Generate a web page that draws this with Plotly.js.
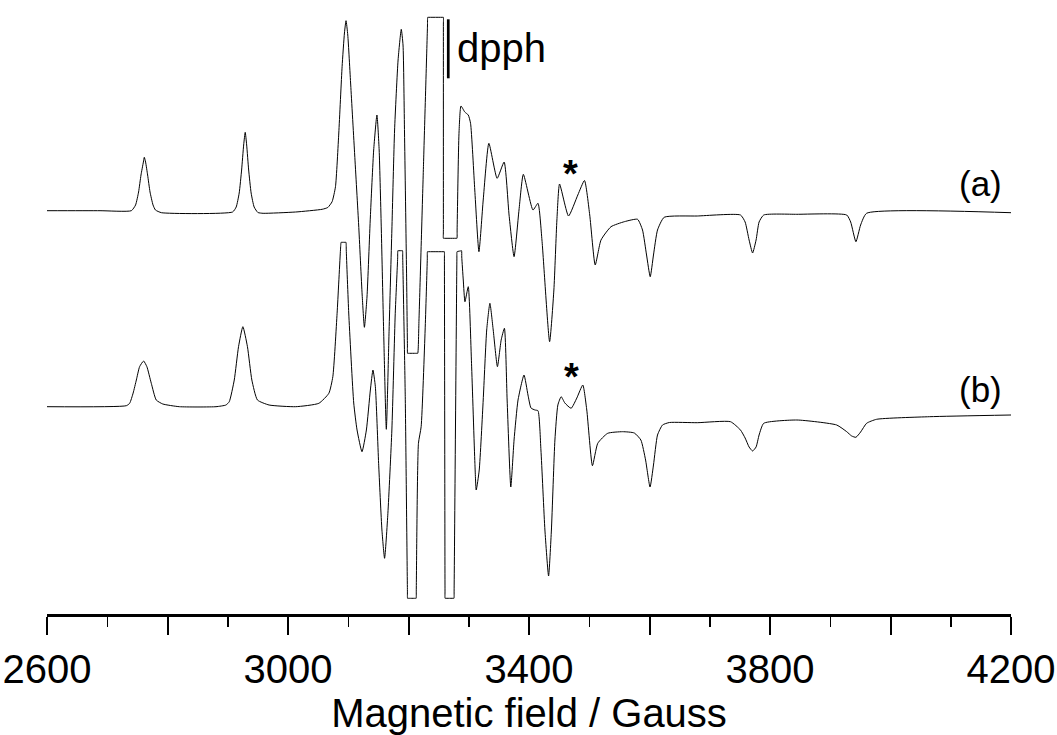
<!DOCTYPE html>
<html>
<head>
<meta charset="utf-8">
<script src="https://cdn.plot.ly/plotly-3.0.1.min.js"></script>
<style>html,body{margin:0;padding:0;background:#fff;}#chart{width:1057px;height:735px;}</style>
</head>
<body>
<div id="chart"></div>
<script>
// Spectrum (a): magnetic field (Gauss) and signal (arbitrary units, baseline = 0)
const fieldA = [2600,2688,2740,2747,2752,2756,2760,2761.5,2763.6,2767,2771,2776,2780,2790,
  2908,2914,2919,2923,2926.4,2929,2931.4,2934.7,2938.8,2943.8,2950,2958.7,
  3012.7,3056.7,3066,3073.2,3078.8,3084.3,3089.8,3093.7,3096.3,3099.2,3104.1,3110.7,3117.3,3123.1,3126.8,
  3131.1,3136.7,3142.2,3147.6,3151.3,3154.9,3158.7,3163.2,3167.8,3172.4,3176.9,3182.7,3188.0,
  3190.9,3193.4,3196.7,3198.2,3198.4,3199.2,3214.6,3215.4,3217.4,3224.8,3231.5,3231.9,3232.6,
  3257.2,3257.9,3257.9,3257.9,3257.9,3258.6,3279.8,3280.5,3280.7,3283.8,3287.1,
  3293.4,3299.2,3303.0,3310.0,3316.9,3324.0,3333.4,3347.1,3358.7,3366.9,3375.2,3383.4,3390.6,
  3406.6,3414.9,3421.5,3434.2,3441.3,3446.3,3450.7,3465.6,3481.0,3492.1,3500.8,3509.9,3519.5,
  3536.1,3558.2,3580.2,3588.4,3595.1,3601.2,3606.6,3613.3,3624.3,3679.3,3751.0,3758.7,3765.3,
  3771.1,3776.9,3781.9,3789.6,3844.6,3927.3,3933.9,3942.6,3950.4,3960.3,4200];
const signalA = [1.3,1.3,1.3,7,20,37,50,54.7,50,37,20,7,2,-0.7,
  0,5,19,42,67,79.7,67,42,19,5,-0.5,-1.3,
  0,2.7,4.5,10.3,25.3,79,145.3,179,191.3,177,127,57,-13,-83,-115.3,
  -85,-5,62,97,62,-18,-118,-217.3,-118,-18,82,152,182.7,
  167,79,-58,-133,-141.3,-141.3,-141.3,-141.3,-108,45.3,186,194.7,194.7,
  194.7,194.7,187,-19,-26.3,-26.3,-26.3,-26.3,-18,78.7,106,
  100,97,88.7,22,-39.7,12,68.7,33.7,50,-3,-44.7,2,37.7,
  2,8.7,-28,-129.7,-78,-8,28,-4,17,31.5,-3,-53,-28,
  -14.7,-9.7,-7.3,-18,-43,-64.7,-43,-18,-5.3,-4,-3,-10,-28,
  -41,-28,-10,-3,-2.3,-3,-10,-29.7,-13,-1.3,-0.7];

// Spectrum (b)
const fieldB = [2600,2731.7,2737.2,2743.0,2748.3,2753.7,2760.3,2765.8,2773.1,2781.3,2792.2,2819.8,
  2880.5,2897.0,2902.5,2910.8,2917.9,2925.1,2932.7,2940.0,2949.3,2968.6,
  3012.7,3051.2,3067.8,3074.4,3081.5,3087.1,3088.1,3088.8,3095.6,3096.3,3096.7,3100.8,3109.1,3114.6,3122.8,3130.1,
  3136.7,3141.0,3145.0,3150.4,3155.9,3160.3,3165.8,3172.4,3178.0,3182.0,3182.3,3183.0,3189.4,3190.1,3190.4,3194.6,
  3198.2,3198.4,3199.1,3212.0,3212.7,3212.9,3216.5,3221.0,3227.6,3231.2,3231.4,3232.1,
  3258.8,3259.5,3259.6,3260.6,3260.7,3261.4,3274.8,3275.5,3275.7,3280.3,3280.5,3281.2,3287.4,3288.1,3288.4,
  3290.9,3293.7,3299.2,
  3304.6,3310.2,3312.4,3317.4,3324.0,3329.8,3335.1,3340.6,3347.6,3353.8,3359.2,3363.7,3369.8,
  3375.2,3381.8,3391.7,3398.3,3403.3,3409.9,3414.9,3419.8,3426.4,3432.5,3437.2,3443.0,3447.9,
  3453.4,3459.5,3469.9,3479.4,3489.3,3495.9,3505.3,3514.1,3530.6,3555.4,3574.8,3585.7,3593.5,
  3600.9,3606.6,3613.3,3621.6,3633.1,3679.3,3734.4,3751.0,3758.7,3765.3,3771.1,3776.9,3781.9,
  3789.6,3844.6,3910.7,3927.3,3935.6,3942.6,3950.4,3960.3,3976.9,4065.0,4200];
const signalB = [1.3,2.3,4.7,15,28,41.3,47,41.3,24.7,8,4,1.3,
  1.3,3,6.3,28,61.3,81.3,61.3,28,8,3,
  1.3,4.7,14.7,31.3,94.7,158,165.7,165.7,165.7,165.7,158,95,5,-22,-43.7,-22,
  18,38,21.3,-55.3,-122,-150.3,-105.3,-22,94.7,150,157.3,157.3,157.3,157.3,150,11.3,
  -183,-190.3,-190.3,-190.3,-190.3,-183,-35.3,-18.7,78,149,156.3,156.3,
  156.3,156.3,149,-183,-190.3,-190.3,-190.3,-190.3,-183,149,156.3,156.5,157.2,157.3,151,
  128,106.3,121.3,
  44.7,-55.3,-82,-62,8,78,104.7,78,41.3,68,79.7,8,-79,
  -32,8,33,13,0,-2,-2.7,-42,-122,-168,-122,-32,3,
  11.3,5,-0.3,10,23,-2,-57.7,-35.3,-25.3,-23.7,-25,-32,-52,
  -79,-57,-27,-17,-14.5,-14.7,-13.7,-22,-30,-39,-43,-39,-27,
  -15.3,-12,-17,-23.7,-28,-29.3,-24,-15.3,-11.3,-8.7,-7];

// Axis ticks
const majorTicks = [2600,2800,3000,3200,3400,3600,3800,4000,4200];
const majorLabels = ['2600','','3000','','3400','','3800','','4200'];
const minorTicks = [2700,2900,3100,3300,3500,3700,3900,4100];

// Vertical stacking of the two spectra
const OFFSET_A = 402, OFFSET_B = 206;

const FONT = 'Liberation Sans, Arial, sans-serif';
const lineStyle = {color: '#000', width: 1, shape: 'spline', smoothing: 0.5};

const traces = [
  {x: fieldA, y: signalA.map(v => v + OFFSET_A), mode: 'lines', line: lineStyle, hoverinfo: 'skip', showlegend: false},
  {x: fieldB, y: signalB.map(v => v + OFFSET_B), mode: 'lines', line: lineStyle, hoverinfo: 'skip', showlegend: false}
];

const layout = {
  width: 1057, height: 735,
  margin: {l: 47, r: 46, t: 0, b: 121},
  paper_bgcolor: '#fff', plot_bgcolor: '#fff',
  font: {family: FONT, color: '#000'},
  xaxis: {
    range: [2600, 4200], showgrid: false, zeroline: false,
    showline: true, linecolor: '#000', linewidth: 2.5,
    ticks: 'outside', ticklen: 18, tickwidth: 2, tickcolor: '#000',
    tickmode: 'array', tickvals: majorTicks, ticktext: majorLabels,
    ticklabeloverflow: 'allow',
    tickfont: {family: FONT, size: 40, color: '#000'},
    minor: {tickmode: 'array', tickvals: minorTicks, ticks: 'outside', ticklen: 10, tickwidth: 1.5, tickcolor: '#000', showgrid: false},
    title: {text: 'Magnetic field / Gauss', font: {family: FONT, size: 40, color: '#000'}, standoff: 1}
  },
  yaxis: {visible: false, range: [0, 614], fixedrange: true},
  shapes: [
    {type: 'line', xref: 'x', yref: 'y', x0: 3266, x1: 3266, y0: 535.7, y1: 594.7, line: {color: '#000', width: 2.7}}
  ],
  annotations: [
    {text: 'dpph', x: 3277, y: 566, xref: 'x', yref: 'y', xanchor: 'left', yanchor: 'middle', showarrow: false, font: {family: FONT, size: 40, color: '#000'}},
    {text: '(a)', x: 4150, y: 431, xref: 'x', yref: 'y', xanchor: 'center', yanchor: 'middle', showarrow: false, font: {family: FONT, size: 35, color: '#000'}},
    {text: '(b)', x: 4150, y: 225, xref: 'x', yref: 'y', xanchor: 'center', yanchor: 'middle', showarrow: false, font: {family: FONT, size: 35, color: '#000'}},
    {text: '<b>*</b>', x: 3469.5, y: 440, xref: 'x', yref: 'y', xanchor: 'center', yanchor: 'middle', showarrow: false, font: {family: FONT, size: 38, color: '#000'}},
    {text: '<b>*</b>', x: 3471, y: 237, xref: 'x', yref: 'y', xanchor: 'center', yanchor: 'middle', showarrow: false, font: {family: FONT, size: 38, color: '#000'}}
  ]
};

Plotly.newPlot('chart', traces, layout, {staticPlot: true, displayModeBar: false});
</script>
</body>
</html>
